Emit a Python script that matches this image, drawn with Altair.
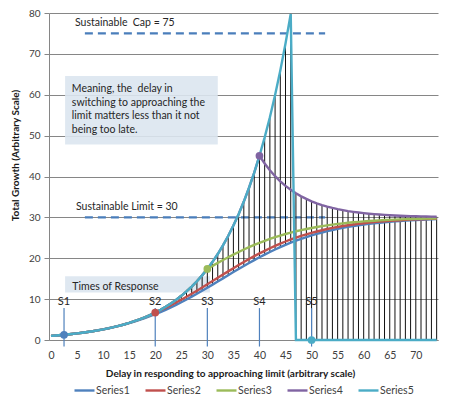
import altair as alt
import pandas as pd

# ---------------- data ----------------
x_vals = list(range(75))

series1 = [1.00, 1.10, 1.21, 1.335, 1.472, 1.623, 1.788, 1.968, 2.166, 2.381,
           2.616, 2.871, 3.149, 3.450, 3.776, 4.127, 4.507, 4.913, 5.349, 5.815,
           6.312, 6.838, 7.394, 7.981, 8.596, 9.239, 9.908, 10.60, 11.31, 12.04,
           12.79, 13.55, 14.31, 15.08, 15.85, 16.62, 17.37, 18.12, 18.84, 19.55,
           20.24, 20.90, 21.54, 22.15, 22.73, 23.28, 23.80, 24.29, 24.75, 25.18,
           25.58, 25.95, 26.30, 26.62, 26.91, 27.19, 27.44, 27.67, 27.88, 28.07,
           28.25, 28.41, 28.56, 28.69, 28.82, 28.93, 29.03, 29.12, 29.20, 29.28,
           29.35, 29.41, 29.47, 29.52, 29.57]

series2 = [1.00, 1.10, 1.21, 1.33, 1.46, 1.61, 1.77, 1.95, 2.14, 2.36,
           2.59, 2.85, 3.13, 3.45, 3.79, 4.17, 4.59, 5.05, 5.55, 6.10,
           6.71, 7.28, 7.88, 8.51, 9.17, 9.86, 10.57, 11.31, 12.07, 12.84,
           13.62, 14.42, 15.21, 16.00, 16.79, 17.56, 18.33, 19.08, 19.80, 20.51,
           21.19, 21.82, 22.44, 23.02, 23.58, 24.10, 24.59, 25.04, 25.47, 25.86,
           26.22, 26.55, 26.86, 27.15, 27.42, 27.65, 27.88, 28.06, 28.25, 28.41,
           28.57, 28.71, 28.85, 28.96, 29.04, 29.15, 29.24, 29.30, 29.38, 29.44,
           29.50, 29.53, 29.59, 29.64, 29.67]

series3 = [1.00, 1.10, 1.21, 1.33, 1.46, 1.61, 1.77, 1.95, 2.14, 2.36,
           2.59, 2.85, 3.13, 3.45, 3.79, 4.17, 4.59, 5.05, 5.55, 6.10,
           6.71, 7.38, 8.12, 8.93, 9.82, 10.81, 11.88, 13.07, 14.38, 15.81,
           17.39, 18.13, 18.86, 19.56, 20.24, 20.90, 21.53, 22.14, 22.72, 23.27,
           23.78, 24.27, 24.73, 25.16, 25.56, 25.93, 26.28, 26.60, 26.89, 27.16,
           27.41, 27.65, 27.86, 28.05, 28.23, 28.39, 28.54, 28.68, 28.80, 28.91,
           29.01, 29.11, 29.19, 29.27, 29.34, 29.40, 29.46, 29.51, 29.56, 29.60,
           29.64, 29.67, 29.70, 29.73, 29.76]

series4 = [1.00, 1.10, 1.21, 1.33, 1.46, 1.61, 1.77, 1.95, 2.14, 2.36,
           2.59, 2.85, 3.13, 3.45, 3.79, 4.17, 4.59, 5.05, 5.55, 6.10,
           6.71, 7.38, 8.12, 8.93, 9.82, 10.81, 11.88, 13.07, 14.38, 15.81,
           17.39, 19.13, 21.04, 23.14, 25.45, 28.00, 30.79, 33.87, 37.25, 40.97,
           45.06, 43.17, 41.52, 40.07, 38.81, 37.71, 36.74, 35.89, 35.15, 34.51,
           33.94, 33.45, 33.02, 32.64, 32.31, 32.02, 31.77, 31.54, 31.35, 31.18,
           31.03, 30.90, 30.79, 30.69, 30.60, 30.53, 30.46, 30.40, 30.35, 30.31,
           30.27, 30.24, 30.21, 30.18, 30.16]

series5 = [1.00, 1.10, 1.21, 1.33, 1.46, 1.61, 1.77, 1.95, 2.14, 2.36,
           2.59, 2.85, 3.13, 3.45, 3.79, 4.17, 4.59, 5.05, 5.55, 6.10,
           6.71, 7.38, 8.12, 8.93, 9.82, 10.81, 11.88, 13.07, 14.38, 15.81,
           17.39, 19.13, 21.04, 23.14, 25.45, 28.00, 30.79, 33.87, 37.25, 40.97,
           45.06, 49.56, 54.51, 59.96, 65.95, 72.53, 79.78, 0, 0, 0,
           0, 0, 0, 0, 0, 0, 0, 0, 0, 0,
           0, 0, 0, 0, 0, 0, 0, 0, 0, 0,
           0, 0, 0, 0, 0]

series_names = ["Series1", "Series2", "Series3", "Series4", "Series5"]
series_colors = ["#4F81BD", "#C0504D", "#9BBB59", "#8064A2", "#4BACC6"]

# response-time markers
marker_x = [2.5, 20, 30, 40, 50]
marker_y = [1.27, 6.71, 17.39, 45.06, 0]
marker_labels = ["S1", "S2", "S3", "S4", "S5"]

# dashed reference lines
ref_y = [75, 30]
ref_x0 = [6.5, 6.5]
ref_x1 = [52.6, 52.6]

# annotation texts
note_text = ["Sustainable\u00a0\u00a0Cap = 75", "Sustainable Limit = 30",
             "Meaning, the\u00a0\u00a0delay in", "switching to approaching the",
             "limit matters less than it not", "being too late.",
             "Times of Response"]
note_x = [4.6, 4.8, 4.0, 4.0, 4.0, 4.0, 4.1]
note_y = [77.5, 32.6, 61.3, 58.0, 54.7, 51.4, 13.0]

# shaded boxes behind texts
box_x0 = [2.7, 2.7]
box_x1 = [32.0, 30.5]
box_y0 = [47.8, 11.6]
box_y1 = [64.6, 15.6]

# ---------------- tables ----------------
all_series = [series1, series2, series3, series4, series5]
long_rows = []
for name, vals in zip(series_names, all_series):
    for xv, yv in zip(x_vals, vals):
        long_rows.append({"x": xv, "value": yv, "series": name})
long_df = pd.DataFrame(long_rows)

wide = pd.DataFrame({"x": x_vals, "s1": series1, "s2": series2, "s3": series3,
                     "s4": series4, "s5": series5})
wide["lo"] = wide[["s1", "s2", "s3", "s4", "s5"]].min(axis=1)
wide["hi"] = wide[["s1", "s2", "s3", "s4", "s5"]].max(axis=1)

mk_df = pd.DataFrame({"x": marker_x, "y": marker_y, "label": marker_labels,
                      "color": series_colors, "top": [7.8] * 5, "bottom": [-1.6] * 5,
                      "ly": [9.3] * 5})
ref_df = pd.DataFrame({"y": ref_y, "x0": ref_x0, "x1": ref_x1})
note_df = pd.DataFrame({"text": note_text, "x": note_x, "y": note_y})
box_df = pd.DataFrame({"x0": box_x0, "x1": box_x1, "y0": box_y0, "y1": box_y1})

FONT = "Lato"
xs = alt.Scale(domain=[-0.384, 74.26], nice=False, zero=False)
ys = alt.Scale(domain=[0, 80], nice=False, zero=False)

x_axis = alt.Axis(values=list(range(0, 75, 5)), grid=False, ticks=False,
                  domainColor="#868686", labelFont=FONT, labelFontSize=10.5,
                  labelColor="#404040", labelPadding=10,
                  title="Delay in responding to approaching limit (arbitrary scale)",
                  titleFont=FONT, titleFontSize=10, titleFontWeight="bold",
                  titleColor="#1a1a1a", titleX=181, titleY=33,
                  titleBaseline="middle", titleAlign="center")
y_axis = alt.Axis(values=list(range(0, 81, 10)), grid=True,
                  gridColor="#868686", gridWidth=1, tickColor="#868686",
                  tickSize=5, domainColor="#868686", labelFont=FONT,
                  labelFontSize=10, labelColor="#404040", labelPadding=4,
                  title="Total Growth (Arbitrary Scale)", titleFont=FONT,
                  titleFontSize=10, titleFontWeight="bold", titleColor="#1a1a1a",
                  titleX=-34, titleY=142, titleAngle=270,
                  titleBaseline="middle", titleAlign="center")


def X(field):
    return alt.X(field, scale=xs, axis=x_axis)


def Y(field):
    return alt.Y(field, scale=ys, axis=y_axis)


boxes = alt.Chart(box_df).mark_rect(fill="#dce5f0", opacity=0.9).encode(
    x=X("x0:Q"), x2="x1:Q", y=Y("y0:Q"), y2="y1:Q")

refs = alt.Chart(ref_df).mark_rule(color="#4A7EBB", strokeWidth=2.2,
                                   strokeDash=[8, 5]).encode(
    x=X("x0:Q"), x2="x1:Q", y=Y("y:Q"))

drops = alt.Chart(wide).mark_rule(color="#111111", strokeWidth=1).encode(
    x=X("x:Q"), y=Y("lo:Q"), y2="hi:Q")

stems = alt.Chart(mk_df).mark_rule(color="#4F81BD", strokeWidth=1.2).encode(
    x=X("x:Q"), y=Y("bottom:Q"), y2="top:Q")

lines = alt.Chart(long_df).mark_line(strokeWidth=2.4).encode(
    x=X("x:Q"), y=Y("value:Q"),
    color=alt.Color("series:N",
                    scale=alt.Scale(domain=series_names, range=series_colors),
                    legend=alt.Legend(orient="none", legendX=24, legendY=366,
                                      direction="horizontal", title=None,
                                      symbolType="stroke", symbolSize=400,
                                      symbolStrokeWidth=2.4, labelFont=FONT,
                                      labelFontSize=10.5, labelColor="#404040",
                                      labelOffset=0, columnPadding=10, padding=0)),
    order=alt.Order("x:Q"))

markers = alt.Chart(mk_df).mark_point(filled=True, size=60, opacity=1,
                                      shape="circle").encode(
    x=X("x:Q"), y=Y("y:Q"), color=alt.Color("color:N", scale=None))

labels = alt.Chart(mk_df).mark_text(font=FONT, fontSize=11, color="#262626",
                                    baseline="middle", align="center").encode(
    x=X("x:Q"), y=Y("ly:Q"), text="label:N")

notes = alt.Chart(note_df).mark_text(font=FONT, fontSize=10.5, color="#262626",
                                     baseline="middle", align="left").encode(
    x=X("x:Q"), y=Y("y:Q"), text="text:N")

chart = alt.layer(boxes, refs, drops, stems, lines, markers, labels, notes).properties(
    width=389, height=327, autosize="none",
    padding={"left": 41, "top": 5, "right": 5, "bottom": 54},
    background="white",
).configure_view(stroke=None)

chart.save("out.html", embed_options={"renderer": "svg", "actions": False})
